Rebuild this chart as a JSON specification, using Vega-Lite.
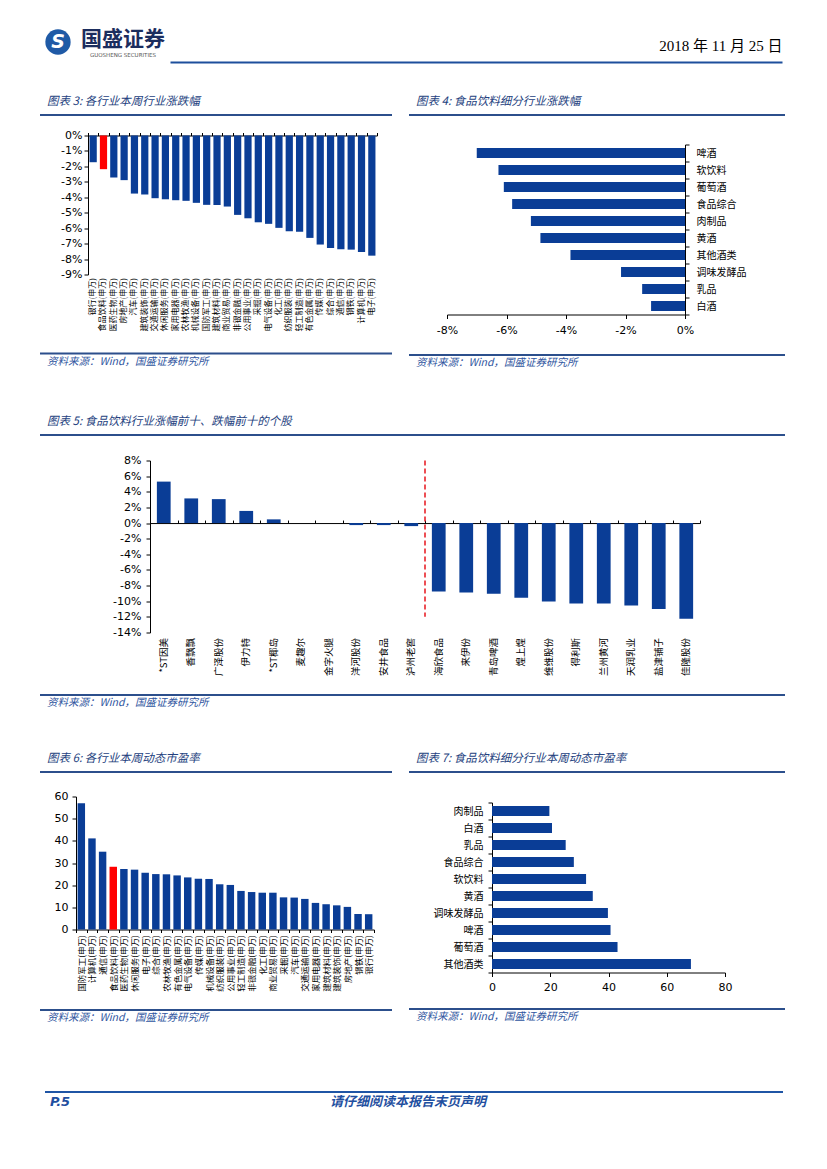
{
  "$schema": "https://vega.github.io/schema/vega-lite/v6.json",
  "background": "white",
  "padding": {"left": 40, "top": 27, "right": 0, "bottom": 0},
  "autosize": {"type": "pad"},
  "data": {"values": []},
  "spacing": 0,
  "vconcat": [
    {"hconcat": [
      {"width": 36, "height": 30, "data": {"values": [{"logo": "S"}]},
       "layer": [
         {"mark": {"type": "point", "shape": "circle", "filled": true, "size": 640, "color": "#1f5aa6", "opacity": 1}, "encoding": {}},
         {"mark": {"type": "text", "fontSize": 19, "fontWeight": "bold", "fontStyle": "italic", "color": "white", "font": "DejaVu Sans"}, "encoding": {"text": {"field": "logo"}}}
       ]},
      {"width": 90, "height": 26, "data": {"values": [{"brand": "国盛证券"}]},
       "mark": {"type": "text", "font": "Noto Sans CJK SC", "fontSize": 21, "fontWeight": "bold", "color": "#1b2d5e"},
       "encoding": {"text": {"field": "brand"}},
       "title": {"text": "GUOSHENG SECURITIES", "orient": "bottom", "anchor": "middle", "fontSize": 5.5, "fontStyle": "normal", "color": "#555555", "offset": 0, "font": "DejaVu Sans"}},
      {"width": 612, "height": 37, "mark": {"type": "point", "opacity": 0},
       "encoding": {"x": {"datum": 0, "type": "quantitative", "scale": {"domain": [0, 1]},
         "axis": {"orient": "top", "offset": -35, "labels": false, "ticks": false, "grid": false, "domain": true, "domainColor": "#1d4f9c", "domainWidth": 2,
                  "title": "2018 年 11 月 25 日", "titleAnchor": "end", "titlePadding": 9, "titleFontSize": 15, "titleFontWeight": "normal", "titleColor": "#000000", "titleFont": "Liberation Serif, Noto Sans CJK SC"}}}}
    ], "spacing": 2, "bounds": "flush"},

    {"width": 1, "height": 31, "mark": "point", "encoding": {}},

    {"hconcat": [
      {"vconcat": [
        {"vconcat": [
          {"width": 352, "height": 2, "mark": "point", "encoding": {}, "view": {"fill": "#2c4f8c", "stroke": null},
           "title": {"text": "图表 3: 各行业本周行业涨跌幅", "offset": 7, "dx": 7}},
          {"hconcat": [
            {"width": 1, "height": 1, "mark": "point", "encoding": {}},
            {"width": 289, "height": 139,
             "data": {"values": [
               {"industry": "银行(申万)", "change": -1.73},
               {"industry": "食品饮料(申万)", "change": -2.18},
               {"industry": "医药生物(申万)", "change": -2.72},
               {"industry": "房地产(申万)", "change": -2.89},
               {"industry": "汽车(申万)", "change": -3.76},
               {"industry": "建筑装饰(申万)", "change": -3.82},
               {"industry": "交通运输(申万)", "change": -4.06},
               {"industry": "休闲服务(申万)", "change": -4.13},
               {"industry": "家用电器(申万)", "change": -4.19},
               {"industry": "农林牧渔(申万)", "change": -4.23},
               {"industry": "机械设备(申万)", "change": -4.36},
               {"industry": "国防军工(申万)", "change": -4.49},
               {"industry": "建筑材料(申万)", "change": -4.5},
               {"industry": "商业贸易(申万)", "change": -4.6},
               {"industry": "非银金融(申万)", "change": -5.14},
               {"industry": "公用事业(申万)", "change": -5.36},
               {"industry": "采掘(申万)", "change": -5.62},
               {"industry": "电气设备(申万)", "change": -5.72},
               {"industry": "化工(申万)", "change": -5.98},
               {"industry": "纺织服装(申万)", "change": -6.2},
               {"industry": "轻工制造(申万)", "change": -6.24},
               {"industry": "有色金属(申万)", "change": -6.63},
               {"industry": "传媒(申万)", "change": -7.06},
               {"industry": "综合(申万)", "change": -7.28},
               {"industry": "通信(申万)", "change": -7.37},
               {"industry": "钢铁(申万)", "change": -7.39},
               {"industry": "计算机(申万)", "change": -7.54},
               {"industry": "电子(申万)", "change": -7.78}
             ]},
             "layer": [
               {"mark": {"type": "bar", "width": {"band": 0.7}},
                "encoding": {
                  "x": {"field": "industry", "type": "nominal", "sort": null, "scale": {"paddingInner": 0, "paddingOuter": 0},
                        "axis": {"title": null, "orient": "bottom", "labelAngle": -90, "labelFont": "Noto Sans CJK SC", "labelFontSize": 8, "ticks": false, "domain": false, "labelPadding": 3, "minExtent": 63.5}},
                  "y": {"field": "change", "type": "quantitative", "scale": {"domain": [-9, 0], "nice": false},
                        "axis": {"title": null, "values": [0, -1, -2, -3, -4, -5, -6, -7, -8, -9], "labelExpr": "datum.value + '%'", "labelPadding": 2, "minExtent": 47}},
                  "color": {"condition": {"test": "datum.industry === '食品饮料(申万)'", "value": "#ff0000"}, "value": "#0a3d96"}
                }},
               {"mark": {"type": "bar", "width": {"band": 0.7}, "opacity": 0},
                "encoding": {
                  "x": {"field": "industry", "type": "nominal", "sort": null, "scale": {"paddingInner": 0, "paddingOuter": 0},
                        "axis": {"title": null, "orient": "top", "labels": false, "ticks": true, "tickBand": "extent", "tickSize": 3}},
                  "y": {"field": "change", "type": "quantitative", "scale": {"domain": [-9, 0], "nice": false},
                        "axis": {"title": null, "values": [0, -1, -2, -3, -4, -5, -6, -7, -8, -9], "labelExpr": "datum.value + '%'", "labelPadding": 2, "minExtent": 47}}
                }}
             ],
             "resolve": {"axis": {"x": "independent"}}}
          ], "spacing": 0}
        ], "spacing": 13.5},
        {"width": 352, "height": 2, "mark": "point", "encoding": {}, "view": {"fill": "#2c4f8c", "stroke": null},
         "title": {"text": "资料来源：Wind，国盛证券研究所", "orient": "bottom", "offset": 2, "dx": 7, "fontSize": 10.5, "color": "#2f55a0"}}
      ], "spacing": 14.5},
      {"vconcat": [
        {"vconcat": [
          {"width": 376, "height": 2, "mark": "point", "encoding": {}, "view": {"fill": "#2c4f8c", "stroke": null},
           "title": {"text": "图表 4: 食品饮料细分行业涨跌幅", "offset": 7, "dx": 7}},
          {"hconcat": [
            {"width": 1, "height": 1, "mark": "point", "encoding": {}},
            {"width": 238, "height": 170,
             "data": {"values": [
               {"sector": "啤酒", "change": -7.0},
               {"sector": "软饮料", "change": -6.27},
               {"sector": "葡萄酒", "change": -6.09},
               {"sector": "食品综合", "change": -5.81},
               {"sector": "肉制品", "change": -5.18},
               {"sector": "黄酒", "change": -4.86},
               {"sector": "其他酒类", "change": -3.85},
               {"sector": "调味发酵品", "change": -2.15},
               {"sector": "乳品", "change": -1.44},
               {"sector": "白酒", "change": -1.14}
             ]},
             "layer": [
               {"mark": {"type": "bar", "height": {"band": 0.6}, "color": "#0a3d96"},
                "encoding": {
                  "y": {"field": "sector", "type": "nominal", "sort": null, "scale": {"paddingInner": 0, "paddingOuter": 0},
                        "axis": {"title": null, "orient": "right", "labelFont": "Noto Sans CJK SC", "labelFontSize": 10, "tickBand": "extent", "tickSize": 4, "labelPadding": 7}},
                  "x": {"field": "change", "type": "quantitative", "scale": {"domain": [-8, 0], "nice": false},
                        "axis": {"title": null, "values": [-8, -6, -4, -2, 0], "labelExpr": "datum.value + '%'", "labelPadding": 6, "minExtent": 21}}
                }},
               {"mark": {"type": "bar", "height": {"band": 0.6}, "opacity": 0},
                "encoding": {
                  "y": {"field": "sector", "type": "nominal", "sort": null, "scale": {"paddingInner": 0, "paddingOuter": 0},
                        "axis": {"title": null, "orient": "left", "labels": false, "ticks": false, "domain": false, "minExtent": 37, "maxExtent": 37}},
                  "x": {"field": "change", "type": "quantitative", "scale": {"domain": [-8, 0], "nice": false},
                        "axis": {"title": null, "values": [-8, -6, -4, -2, 0], "labelExpr": "datum.value + '%'", "labelPadding": 6, "minExtent": 21}}
                }}
             ],
             "resolve": {"axis": {"y": "independent"}}}
          ], "spacing": 0}
        ], "spacing": 23.5},
        {"width": 376, "height": 2, "mark": "point", "encoding": {}, "view": {"fill": "#2c4f8c", "stroke": null},
         "title": {"text": "资料来源：Wind，国盛证券研究所", "orient": "bottom", "offset": 2, "dx": 7, "fontSize": 10.5, "color": "#2f55a0"}}
      ], "spacing": 18}
    ], "spacing": 17},

    {"width": 1, "height": 46, "mark": "point", "encoding": {}},

    {"vconcat": [
      {"vconcat": [
        {"width": 745, "height": 2, "mark": "point", "encoding": {}, "view": {"fill": "#2c4f8c", "stroke": null},
         "title": {"text": "图表 5: 食品饮料行业涨幅前十、跌幅前十的个股", "offset": 7, "dx": 7}},
        {"hconcat": [
          {"width": 1, "height": 1, "mark": "point", "encoding": {}},
          {"width": 550, "height": 172,
           "data": {"values": [
             {"stock": "*ST因美", "ret": 5.3},
             {"stock": "香飘飘", "ret": 3.15},
             {"stock": "广泽股份", "ret": 3.06},
             {"stock": "伊力特", "ret": 1.55},
             {"stock": "*ST椰岛", "ret": 0.47},
             {"stock": "麦趣尔", "ret": 0.0},
             {"stock": "金字火腿", "ret": 0.0},
             {"stock": "洋河股份", "ret": -0.26},
             {"stock": "安井食品", "ret": -0.26},
             {"stock": "泸州老窖", "ret": -0.39},
             {"stock": "海欣食品", "ret": -8.75},
             {"stock": "来伊份", "ret": -8.88},
             {"stock": "青岛啤酒", "ret": -9.05},
             {"stock": "煌上煌", "ret": -9.57},
             {"stock": "维维股份", "ret": -10.04},
             {"stock": "得利斯", "ret": -10.3},
             {"stock": "兰州黄河", "ret": -10.3},
             {"stock": "天润乳业", "ret": -10.56},
             {"stock": "盐津铺子", "ret": -10.99},
             {"stock": "佳隆股份", "ret": -12.24}
           ]},
           "layer": [
             {"mark": {"type": "bar", "width": {"band": 0.5}, "color": "#0a3d96"},
              "encoding": {
                "x": {"field": "stock", "type": "nominal", "sort": null,
                      "scale": {"paddingInner": 0, "paddingOuter": 0, "domain": ["*ST因美", "香飘飘", "广泽股份", "伊力特", "*ST椰岛", "麦趣尔", "金字火腿", "洋河股份", "安井食品", "泸州老窖", "海欣食品", "来伊份", "青岛啤酒", "煌上煌", "维维股份", "得利斯", "兰州黄河", "天润乳业", "盐津铺子", "佳隆股份"]},
                      "axis": {"title": null, "orient": "bottom", "labelAngle": -90, "labelFont": "Noto Sans CJK SC", "labelFontSize": 9.5, "ticks": false, "domain": false, "labelPadding": 5, "minExtent": 50}},
                "y": {"field": "ret", "type": "quantitative", "scale": {"domain": [-14, 8], "nice": false},
                      "axis": {"title": null, "values": [8, 6, 4, 2, 0, -2, -4, -6, -8, -10, -12, -14], "labelExpr": "datum.value + '%'", "labelPadding": 5, "minExtent": 109}}
              }},
             {"mark": {"type": "bar", "width": {"band": 0.5}, "opacity": 0},
              "encoding": {
                "x": {"field": "stock", "type": "nominal", "sort": null,
                      "scale": {"paddingInner": 0, "paddingOuter": 0, "domain": ["*ST因美", "香飘飘", "广泽股份", "伊力特", "*ST椰岛", "麦趣尔", "金字火腿", "洋河股份", "安井食品", "泸州老窖", "海欣食品", "来伊份", "青岛啤酒", "煌上煌", "维维股份", "得利斯", "兰州黄河", "天润乳业", "盐津铺子", "佳隆股份"]},
                      "axis": {"title": null, "orient": "top", "offset": -62.55, "labels": false, "ticks": true, "tickBand": "extent", "tickSize": 3}},
                "y": {"field": "ret", "type": "quantitative", "scale": {"domain": [-14, 8], "nice": false},
                      "axis": {"title": null, "values": [8, 6, 4, 2, 0, -2, -4, -6, -8, -10, -12, -14], "labelExpr": "datum.value + '%'", "labelPadding": 5, "minExtent": 109}}
              }},
             {"data": {"values": [{"divider": "海欣食品", "top": 8, "bottom": -12}]},
              "mark": {"type": "rule", "color": "#e8141c", "strokeDash": [5, 3], "strokeWidth": 1.5},
              "encoding": {
                "x": {"field": "divider", "type": "nominal", "bandPosition": 0, "axis": null,
                      "scale": {"paddingInner": 0, "paddingOuter": 0, "domain": ["*ST因美", "香飘飘", "广泽股份", "伊力特", "*ST椰岛", "麦趣尔", "金字火腿", "洋河股份", "安井食品", "泸州老窖", "海欣食品", "来伊份", "青岛啤酒", "煌上煌", "维维股份", "得利斯", "兰州黄河", "天润乳业", "盐津铺子", "佳隆股份"]}},
                "y": {"field": "top", "type": "quantitative", "scale": {"domain": [-14, 8], "nice": false},
                      "axis": {"title": null, "values": [8, 6, 4, 2, 0, -2, -4, -6, -8, -10, -12, -14], "labelExpr": "datum.value + '%'", "labelPadding": 5, "minExtent": 109}},
                "y2": {"field": "bottom"}
              }}
           ],
           "resolve": {"axis": {"x": "independent"}}}
        ], "spacing": 0}
      ], "spacing": 18.5},
      {"width": 745, "height": 2, "mark": "point", "encoding": {}, "view": {"fill": "#2c4f8c", "stroke": null},
       "title": {"text": "资料来源：Wind，国盛证券研究所", "orient": "bottom", "offset": 2, "dx": 7, "fontSize": 10.5, "color": "#2f55a0"}}
    ], "spacing": 11},

    {"width": 1, "height": 43, "mark": "point", "encoding": {}},

    {"hconcat": [
      {"vconcat": [
        {"vconcat": [
          {"width": 352, "height": 2, "mark": "point", "encoding": {}, "view": {"fill": "#2c4f8c", "stroke": null},
           "title": {"text": "图表 6: 各行业本周动态市盈率", "offset": 7, "dx": 7}},
          {"hconcat": [
            {"width": 1, "height": 1, "mark": "point", "encoding": {}},
            {"width": 298, "height": 133,
             "data": {"values": [
               {"industry": "国防军工(申万)", "pe": 57.0},
               {"industry": "计算机(申万)", "pe": 41.1},
               {"industry": "通信(申万)", "pe": 35.1},
               {"industry": "食品饮料(申万)", "pe": 28.3},
               {"industry": "医药生物(申万)", "pe": 27.3},
               {"industry": "休闲服务(申万)", "pe": 27.0},
               {"industry": "电子(申万)", "pe": 25.6},
               {"industry": "综合(申万)", "pe": 25.0},
               {"industry": "农林牧渔(申万)", "pe": 24.9},
               {"industry": "有色金属(申万)", "pe": 24.4},
               {"industry": "电气设备(申万)", "pe": 23.5},
               {"industry": "传媒(申万)", "pe": 22.9},
               {"industry": "机械设备(申万)", "pe": 22.8},
               {"industry": "纺织服装(申万)", "pe": 20.4},
               {"industry": "公用事业(申万)", "pe": 20.1},
               {"industry": "轻工制造(申万)", "pe": 17.4},
               {"industry": "非银金融(申万)", "pe": 16.9},
               {"industry": "化工(申万)", "pe": 16.6},
               {"industry": "商业贸易(申万)", "pe": 16.6},
               {"industry": "采掘(申万)", "pe": 14.5},
               {"industry": "汽车(申万)", "pe": 14.4},
               {"industry": "交通运输(申万)", "pe": 13.8},
               {"industry": "家用电器(申万)", "pe": 12.0},
               {"industry": "建筑材料(申万)", "pe": 11.4},
               {"industry": "建筑装饰(申万)", "pe": 10.9},
               {"industry": "房地产(申万)", "pe": 10.2},
               {"industry": "钢铁(申万)", "pe": 7.0},
               {"industry": "银行(申万)", "pe": 6.9}
             ]},
             "mark": {"type": "bar", "width": {"band": 0.7}},
             "encoding": {
               "x": {"field": "industry", "type": "nominal", "sort": null, "scale": {"paddingInner": 0, "paddingOuter": 0},
                     "axis": {"title": null, "labelAngle": -90, "labelFont": "Noto Sans CJK SC", "labelFontSize": 8.5, "tickBand": "extent", "tickSize": 3, "labelPadding": 2, "minExtent": 72}},
               "y": {"field": "pe", "type": "quantitative", "scale": {"domain": [0, 60], "nice": false},
                     "axis": {"title": null, "values": [0, 10, 20, 30, 40, 50, 60], "labelPadding": 4, "minExtent": 35}},
               "color": {"condition": {"test": "datum.industry === '食品饮料(申万)'", "value": "#ff0000"}, "value": "#0a3d96"}
             }}
          ], "spacing": 0}
        ], "spacing": 17.5},
        {"width": 352, "height": 2, "mark": "point", "encoding": {}, "view": {"fill": "#2c4f8c", "stroke": null},
         "title": {"text": "资料来源：Wind，国盛证券研究所", "orient": "bottom", "offset": 2, "dx": 7, "fontSize": 10.5, "color": "#2f55a0"}}
      ], "spacing": 7},
      {"vconcat": [
        {"vconcat": [
          {"width": 376, "height": 2, "mark": "point", "encoding": {}, "view": {"fill": "#2c4f8c", "stroke": null},
           "title": {"text": "图表 7: 食品饮料细分行业本周动态市盈率", "offset": 7, "dx": 7}},
          {"hconcat": [
            {"width": 1, "height": 1, "mark": "point", "encoding": {}},
            {"width": 233, "height": 170,
             "data": {"values": [
               {"sector": "肉制品", "pe": 19.7},
               {"sector": "白酒", "pe": 20.6},
               {"sector": "乳品", "pe": 25.3},
               {"sector": "食品综合", "pe": 28.1},
               {"sector": "软饮料", "pe": 32.3},
               {"sector": "黄酒", "pe": 34.6},
               {"sector": "调味发酵品", "pe": 39.8},
               {"sector": "啤酒", "pe": 40.7},
               {"sector": "葡萄酒", "pe": 43.1},
               {"sector": "其他酒类", "pe": 68.3}
             ]},
             "mark": {"type": "bar", "height": {"band": 0.6}, "color": "#0a3d96"},
             "encoding": {
               "y": {"field": "sector", "type": "nominal", "sort": null, "scale": {"paddingInner": 0, "paddingOuter": 0},
                     "axis": {"title": null, "orient": "left", "labelFont": "Noto Sans CJK SC", "labelFontSize": 10, "tickBand": "extent", "tickSize": 4, "labelPadding": 5, "minExtent": 82}},
               "x": {"field": "pe", "type": "quantitative", "scale": {"domain": [0, 80], "nice": false},
                     "axis": {"title": null, "values": [0, 20, 40, 60, 80], "labelPadding": 5, "minExtent": 22}}
             }}
          ], "spacing": 0}
        ], "spacing": 24.5},
        {"width": 376, "height": 2, "mark": "point", "encoding": {}, "view": {"fill": "#2c4f8c", "stroke": null},
         "title": {"text": "资料来源：Wind，国盛证券研究所", "orient": "bottom", "offset": 2, "dx": 7, "fontSize": 10.5, "color": "#2f55a0"}}
      ], "spacing": 13}
    ], "spacing": 17},

    {"width": 1, "height": 67, "mark": "point", "encoding": {}},

    {"hconcat": [
      {"width": 5, "height": 1, "mark": "point", "encoding": {}},
      {"width": 200, "height": 2, "mark": "point", "encoding": {}, "view": {"fill": "#1f55a5", "stroke": null},
       "title": {"text": "P.5", "orient": "bottom", "anchor": "start", "offset": 3, "dx": 5, "fontSize": 13, "fontWeight": "bold", "fontStyle": "italic", "color": "#1f4fa0", "font": "DejaVu Sans"}},
      {"width": 538, "height": 2, "mark": "point", "encoding": {}, "view": {"fill": "#1f55a5", "stroke": null},
       "title": {"text": "请仔细阅读本报告末页声明", "orient": "bottom", "anchor": "start", "dx": 85, "offset": 3, "fontSize": 13, "fontWeight": "bold", "color": "#1f4fa0"}}
    ], "spacing": 0}
  ],
  "config": {
    "view": {"stroke": null},
    "font": "Noto Sans CJK SC",
    "axis": {
      "labelColor": "#000000", "domainColor": "#000000", "tickColor": "#000000",
      "grid": false, "labelFont": "DejaVu Sans", "labelFontSize": 11,
      "labelFlush": false, "labelOverlap": false, "tickSize": 4
    },
    "title": {"font": "Noto Sans CJK SC", "fontSize": 11.5, "fontStyle": "italic", "fontWeight": "normal", "color": "#24417e", "anchor": "start"}
  }
}
